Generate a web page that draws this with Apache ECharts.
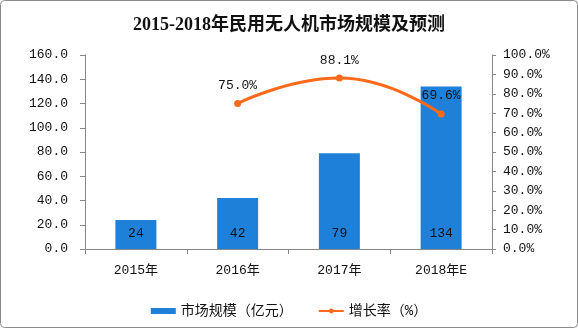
<!DOCTYPE html>
<html><head><meta charset="utf-8">
<script src="https://cdn.jsdelivr.net/npm/echarts@6/dist/echarts.min.js"></script>
<style>html,body{margin:0;padding:0;background:#fff}#c{width:578px;height:328px}</style>
</head><body><div id="c"></div>
<script>
const titleText = '2015-2018年民用无人机市场规模及预测';
const categories = ['2015年', '2016年', '2017年', '2018年E'];
const marketSize = [24, 42, 79, 134];
const growthRate = [null, 75.0, 88.1, 69.6];
const barName = '市场规模（亿元）';
const lineName = '增长率（%）';

const MONO = '"Liberation Mono","DejaVu Sans Mono","Noto Sans CJK SC",monospace';
const chart = echarts.init(document.getElementById('c'), null, {renderer: 'canvas'});
chart.setOption({
  animation: false,
  backgroundColor: '#fff',
  title: {
    text: titleText, left: 'center', top: 11,
    textStyle: {fontFamily: '"Liberation Serif","Noto Sans CJK SC",serif', fontSize: 18, fontWeight: 'bold', color: '#111'}
  },
  graphic: [{
    type: 'rect', shape: {x: 0.5, y: 0.5, width: 577, height: 327, r: 4},
    style: {fill: 'none', stroke: '#8a8a8a', lineWidth: 1}, silent: true, z: 100
  }],
  grid: {left: 85, right: 86, top: 55, bottom: 79},
  legend: {
    bottom: 5, left: 'center', itemWidth: 25, itemHeight: 6, itemGap: 25,
    textStyle: {fontFamily: MONO, fontSize: 14, color: '#111'},
    data: [{name: barName, icon: 'rect'}, {name: lineName}]
  },
  xAxis: {
    type: 'category', data: categories,
    axisLine: {lineStyle: {color: '#868686'}},
    axisTick: {show: true, length: 5, lineStyle: {color: '#868686'}},
    axisLabel: {fontFamily: MONO, fontSize: 13, color: '#111', margin: 15}
  },
  yAxis: [{
    type: 'value', min: 0, max: 160, interval: 20,
    axisLine: {show: true, lineStyle: {color: '#868686'}},
    axisTick: {show: true, length: 5, lineStyle: {color: '#868686'}},
    splitLine: {show: false},
    axisLabel: {fontFamily: MONO, fontSize: 13, color: '#111', margin: 17, formatter: v => v.toFixed(1)}
  }, {
    type: 'value', min: 0, max: 100, interval: 10,
    axisLine: {show: true, lineStyle: {color: '#868686'}},
    axisTick: {show: true, length: 4, lineStyle: {color: '#868686'}},
    splitLine: {show: false},
    axisLabel: {fontFamily: MONO, fontSize: 13, color: '#111', margin: 11, formatter: v => v.toFixed(1) + '%'}
  }],
  series: [{
    name: barName, type: 'bar', data: marketSize, barWidth: 41,
    itemStyle: {color: '#1e80d8'},
    label: {show: true, position: 'insideBottom', distance: 9, fontFamily: MONO, fontSize: 13, color: '#111'}
  }, {
    name: lineName, type: 'line', yAxisIndex: 1, data: growthRate, smooth: true,
    symbol: 'circle', symbolSize: 7,
    lineStyle: {color: '#ff6a1a', width: 3},
    itemStyle: {color: '#ff6a1a'},
    label: {show: true, position: 'top', distance: 8, fontFamily: MONO, fontSize: 13, color: '#111', formatter: p => p.value.toFixed(1) + '%'}
  }]
});
</script></body></html>
